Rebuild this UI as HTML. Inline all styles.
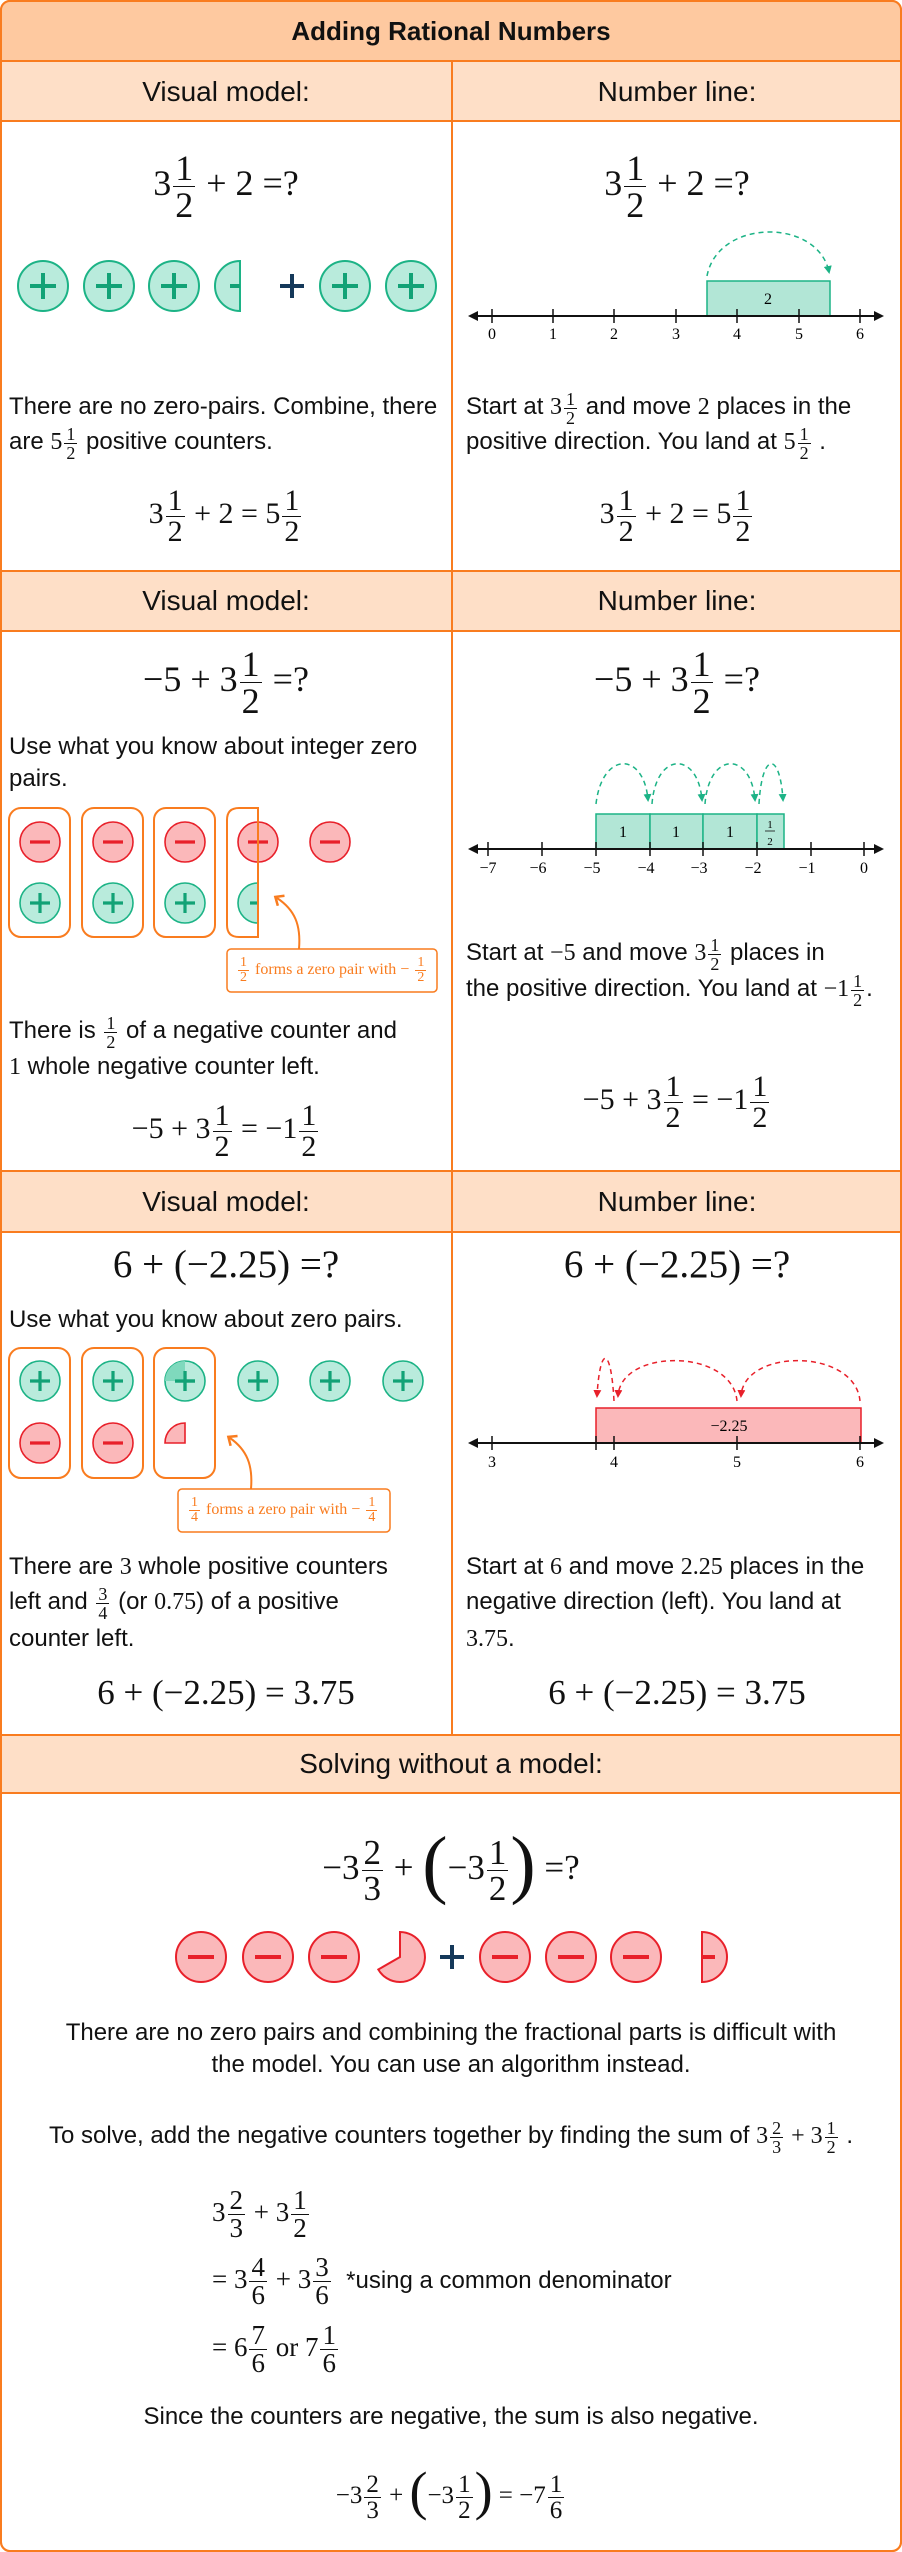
<!DOCTYPE html>
<html><head><meta charset="utf-8">
<style>
*{margin:0;padding:0;box-sizing:border-box}
body{width:902px;height:2552px;position:relative;background:#fff;font-family:"Liberation Sans",sans-serif;color:#111;overflow:hidden}
.a{position:absolute;white-space:nowrap}
.c{text-align:center}
.m{font-family:"Liberation Serif",serif}
.fr{display:inline-flex;flex-direction:column;vertical-align:middle;text-align:center;line-height:1.0;margin:0 2px}
.fr>span:first-child{border-bottom:1.4px solid currentColor;padding:0 2px}
.t{font-size:24px;line-height:36px}
.h{font-size:28px}
.sm .fr{font-size:18px}
</style></head><body>
<svg class="a" style="left:0;top:0" width="902" height="2552" xmlns="http://www.w3.org/2000/svg">
<defs>
<marker id="ag" markerWidth="8" markerHeight="8" refX="6" refY="4" orient="auto" markerUnits="userSpaceOnUse"><path d="M0,0 L8,4 L0,8 Z" fill="#1cb386"/></marker>
<marker id="ar" markerWidth="8" markerHeight="8" refX="6" refY="4" orient="auto" markerUnits="userSpaceOnUse"><path d="M0,0 L8,4 L0,8 Z" fill="#e8202a"/></marker>
<marker id="ab" markerWidth="10" markerHeight="10" refX="8" refY="5" orient="auto" markerUnits="userSpaceOnUse"><path d="M0,0 L10,5 L0,10 Z" fill="#111"/></marker>
<marker id="ao" markerWidth="14" markerHeight="14" refX="7" refY="7" orient="auto" markerUnits="userSpaceOnUse"><path d="M2,1 L9,7 L2,13" fill="none" stroke="#f97c1f" stroke-width="2.5"/></marker>
<g id="P"><circle r="25" fill="#b9ebdc" stroke="#1cb386" stroke-width="2"/><path d="M-13,0H13M0,-13V13" stroke="#12a276" stroke-width="4"/></g>
<g id="N"><circle r="25" fill="#fbb8ba" stroke="#e8202a" stroke-width="2"/><path d="M-13,0H13" stroke="#e8202a" stroke-width="4"/></g>
<g id="p"><circle r="20" fill="#b9ebdc" stroke="#1cb386" stroke-width="1.6"/><path d="M-10,0H10M0,-10V10" stroke="#12a276" stroke-width="3.2"/></g>
<g id="n"><circle r="20" fill="#fbb8ba" stroke="#e8202a" stroke-width="1.6"/><path d="M-10,0H10" stroke="#e8202a" stroke-width="3.2"/></g>
</defs>
<rect x="1" y="1" width="900" height="2550" rx="9" fill="#fff" stroke="#f97c1f" stroke-width="2"/>
<path d="M1,61 V10 Q1,1 10,1 H892 Q901,1 901,10 V61 Z" fill="#fec9a0"/>
<rect x="1" y="61" width="900" height="60" fill="#fedfc7"/>
<rect x="1" y="571" width="900" height="60" fill="#fedfc7"/>
<rect x="1" y="1171" width="900" height="61" fill="#fedfc7"/>
<rect x="1" y="1735" width="900" height="58" fill="#fedfc7"/>
<g stroke="#f97c1f" stroke-width="2">
<line x1="0" y1="61" x2="902" y2="61"/><line x1="0" y1="121" x2="902" y2="121"/>
<line x1="0" y1="571" x2="902" y2="571"/><line x1="0" y1="631" x2="902" y2="631"/>
<line x1="0" y1="1171" x2="902" y2="1171"/><line x1="0" y1="1232" x2="902" y2="1232"/>
<line x1="0" y1="1735" x2="902" y2="1735"/><line x1="0" y1="1793" x2="902" y2="1793"/>
<line x1="452" y1="61" x2="452" y2="1735"/>
</g>
<rect x="1" y="1" width="900" height="2550" rx="9" fill="none" stroke="#f97c1f" stroke-width="2"/>

<use href="#P" x="43" y="286"/><use href="#P" x="109" y="286"/><use href="#P" x="174" y="286"/>
<path d="M240,261 A25,25 0 0 0 240,311 Z" fill="#b9ebdc" stroke="#1cb386" stroke-width="2"/><path d="M230,286H240" stroke="#12a276" stroke-width="4"/>
<path d="M280,286H304M292,274V298" stroke="#15395a" stroke-width="4"/>
<use href="#P" x="345" y="286"/><use href="#P" x="411" y="286"/>
<rect x="707" y="281" width="123" height="35" fill="#b2e6d6" stroke="#1cb386" stroke-width="1.5"/>
<text x="768" y="304" font-family="Liberation Serif" font-size="16" text-anchor="middle">2</text>
<line x1="470" y1="316" x2="882" y2="316" stroke="#111" stroke-width="2" marker-end="url(#ab)"/>
<line x1="882" y1="316" x2="470" y2="316" stroke="#111" stroke-width="2" marker-end="url(#ab)"/>
<g stroke="#111" stroke-width="1.5"><path d="M492,309V323M553,309V323M614,309V323M676,309V323M737,309V323M799,309V323M860,309V323"/></g>
<g font-family="Liberation Serif" font-size="16" text-anchor="middle"><text x="492" y="339">0</text><text x="553" y="339">1</text><text x="614" y="339">2</text><text x="676" y="339">3</text><text x="737" y="339">4</text><text x="799" y="339">5</text><text x="860" y="339">6</text></g>
<path d="M707,276 C718,218 818,218 829,272" fill="none" stroke="#1cb386" stroke-width="1.5" stroke-dasharray="5,4" marker-end="url(#ag)"/>

<g fill="none" stroke="#f97c1f" stroke-width="2"><rect x="9" y="808" width="61" height="129" rx="12"/><rect x="82" y="808" width="61" height="129" rx="12"/><rect x="154" y="808" width="61" height="129" rx="12"/></g>
<use href="#n" x="40" y="842"/><use href="#n" x="113" y="842"/><use href="#n" x="185" y="842"/><use href="#n" x="258" y="842"/><use href="#n" x="330" y="842"/>
<use href="#p" x="40" y="903"/><use href="#p" x="113" y="903"/><use href="#p" x="185" y="903"/>
<path d="M258,883 A20,20 0 0 0 258,923 Z" fill="#b9ebdc" stroke="#1cb386" stroke-width="1.6"/><path d="M250,903H258" stroke="#12a276" stroke-width="3.2"/>
<path d="M258,808 H239 Q227,808 227,820 V925 Q227,937 239,937 H258 Z" fill="none" stroke="#f97c1f" stroke-width="2"/>
<path d="M299,949 C301,925 295,910 277,898" fill="none" stroke="#f97c1f" stroke-width="2" marker-end="url(#ao)"/>
<rect x="227" y="949" width="210" height="43" rx="4" fill="#fff" stroke="#f97c1f" stroke-width="1.5"/>
<g fill="#b2e6d6" stroke="#1cb386" stroke-width="1.5"><rect x="596" y="814" width="54" height="35"/><rect x="650" y="814" width="53" height="35"/><rect x="703" y="814" width="54" height="35"/><rect x="757" y="814" width="27" height="35"/></g>
<g font-family="Liberation Serif" font-size="16" text-anchor="middle"><text x="623" y="837">1</text><text x="676" y="837">1</text><text x="730" y="837">1</text><text x="770" y="828" font-size="11">1</text><text x="770" y="845" font-size="11">2</text></g>
<line x1="765" y1="831" x2="775" y2="831" stroke="#111" stroke-width="0.8"/>
<line x1="470" y1="849" x2="882" y2="849" stroke="#111" stroke-width="2" marker-end="url(#ab)"/>
<line x1="882" y1="849" x2="470" y2="849" stroke="#111" stroke-width="2" marker-end="url(#ab)"/>
<g stroke="#111" stroke-width="1.5"><path d="M488,842V856M542,842V856M596,842V856M650,842V856M703,842V856M757,842V856M811,842V856M864,842V856"/></g>
<g font-family="Liberation Serif" font-size="16" text-anchor="middle"><text x="488" y="873">−7</text><text x="538" y="873">−6</text><text x="592" y="873">−5</text><text x="646" y="873">−4</text><text x="699" y="873">−3</text><text x="753" y="873">−2</text><text x="807" y="873">−1</text><text x="864" y="873">0</text></g>
<g fill="none" stroke="#1cb386" stroke-width="1.5" stroke-dasharray="5,4">
<path d="M596,804 C602,751 644,751 648,800" marker-end="url(#ag)"/>
<path d="M652,804 C656,751 698,751 702,800" marker-end="url(#ag)"/>
<path d="M705,804 C709,751 751,751 755,800" marker-end="url(#ag)"/>
<path d="M759,804 C762,751 780,751 783,800" marker-end="url(#ag)"/>
</g>

<g fill="none" stroke="#f97c1f" stroke-width="2"><rect x="9" y="1348" width="61" height="130" rx="12"/><rect x="82" y="1348" width="61" height="130" rx="12"/><rect x="154" y="1348" width="61" height="130" rx="12"/></g>
<use href="#p" x="40" y="1381"/><use href="#p" x="113" y="1381"/><use href="#p" x="185" y="1381"/><use href="#p" x="258" y="1381"/><use href="#p" x="330" y="1381"/><use href="#p" x="403" y="1381"/>
<path d="M185,1381 L165,1381 A20,20 0 0 1 185,1361 Z" fill="#7fd9bd"/><path d="M175,1381H195M185,1371V1391" stroke="#12a276" stroke-width="3.2"/>
<use href="#n" x="40" y="1443"/><use href="#n" x="113" y="1443"/>
<path d="M185,1443 L165,1443 A20,20 0 0 1 185,1423 Z" fill="#fbb8ba" stroke="#e8202a" stroke-width="1.6"/>
<path d="M251,1489 C253,1465 247,1450 230,1438" fill="none" stroke="#f97c1f" stroke-width="2" marker-end="url(#ao)"/>
<rect x="178" y="1489" width="212" height="43" rx="4" fill="#fff" stroke="#f97c1f" stroke-width="1.5"/>
<rect x="596" y="1408" width="265" height="35" fill="#fbb8ba" stroke="#e8202a" stroke-width="1.5"/>
<text x="729" y="1431" font-family="Liberation Serif" font-size="16" text-anchor="middle">−2.25</text>
<line x1="470" y1="1443" x2="882" y2="1443" stroke="#111" stroke-width="2" marker-end="url(#ab)"/>
<line x1="882" y1="1443" x2="470" y2="1443" stroke="#111" stroke-width="2" marker-end="url(#ab)"/>
<g stroke="#111" stroke-width="1.5"><path d="M492,1436V1450M614,1436V1450M737,1436V1450M860,1436V1450M596,1436V1450"/></g>
<g font-family="Liberation Serif" font-size="16" text-anchor="middle"><text x="492" y="1467">3</text><text x="614" y="1467">4</text><text x="737" y="1467">5</text><text x="860" y="1467">6</text></g>
<g fill="none" stroke="#e8202a" stroke-width="1.5" stroke-dasharray="5,4">
<path d="M860,1401 C855,1348 744,1348 741,1396" marker-end="url(#ar)"/>
<path d="M737,1401 C732,1348 621,1348 618,1396" marker-end="url(#ar)"/>
<path d="M614,1401 C611,1345 600,1345 597,1396" marker-end="url(#ar)"/>
</g>

<use href="#N" x="201" y="1957"/><use href="#N" x="268" y="1957"/><use href="#N" x="334" y="1957"/>
<path d="M400,1957 L400,1932 A25,25 0 1 1 378.3,1969.5 Z" fill="#fbb8ba" stroke="#e8202a" stroke-width="2"/>
<path d="M440,1957H464M452,1945V1969" stroke="#15395a" stroke-width="4"/>
<use href="#N" x="505" y="1957"/><use href="#N" x="571" y="1957"/><use href="#N" x="636" y="1957"/>
<path d="M702,1932 A25,25 0 0 1 702,1982 Z" fill="#fbb8ba" stroke="#e8202a" stroke-width="2"/><path d="M702,1957H715" stroke="#e8202a" stroke-width="4"/>
</svg>

<div class="a c" style="left:0;width:902px;top:15px;font-size:26px;font-weight:bold;line-height:32px">Adding Rational Numbers</div>
<div class="a c h" style="left:0;width:452px;top:75px;line-height:34px">Visual model:</div>
<div class="a c h" style="left:452px;width:450px;top:75px;line-height:34px">Number line:</div>
<div class="a c h" style="left:0;width:452px;top:584px;line-height:34px">Visual model:</div>
<div class="a c h" style="left:452px;width:450px;top:584px;line-height:34px">Number line:</div>
<div class="a c h" style="left:0;width:452px;top:1185px;line-height:34px">Visual model:</div>
<div class="a c h" style="left:452px;width:450px;top:1185px;line-height:34px">Number line:</div>
<div class="a c h" style="left:0;width:902px;top:1747px;line-height:34px">Solving without a model:</div>

<div class="a c m" style="left:0;width:452px;top:143px;font-size:36px;line-height:80px">3<span class="fr"><span>1</span><span>2</span></span> + 2 =?</div>
<div class="a c m" style="left:452px;width:450px;top:143px;font-size:36px;line-height:80px">3<span class="fr"><span>1</span><span>2</span></span> + 2 =?</div>
<div class="a t sm" style="left:9px;top:389px">There are no zero-pairs. Combine, there</div>
<div class="a t sm" style="left:9px;top:424px">are <span class="m">5<span class="fr"><span>1</span><span>2</span></span></span> positive counters.</div>
<div class="a c m" style="left:0;width:452px;top:479px;font-size:30px;line-height:70px">3<span class="fr"><span>1</span><span>2</span></span> + 2 = 5<span class="fr"><span>1</span><span>2</span></span></div>
<div class="a t sm" style="left:466px;top:389px">Start at <span class="m">3<span class="fr"><span>1</span><span>2</span></span></span> and move <span class="m">2</span> places in the</div>
<div class="a t sm" style="left:466px;top:424px">positive direction. You land at <span class="m">5<span class="fr"><span>1</span><span>2</span></span></span> .</div>
<div class="a c m" style="left:452px;width:450px;top:479px;font-size:30px;line-height:70px">3<span class="fr"><span>1</span><span>2</span></span> + 2 = 5<span class="fr"><span>1</span><span>2</span></span></div>

<div class="a c m" style="left:0;width:452px;top:639px;font-size:36px;line-height:80px">−5 + 3<span class="fr"><span>1</span><span>2</span></span> =?</div>
<div class="a c m" style="left:452px;width:450px;top:639px;font-size:36px;line-height:80px">−5 + 3<span class="fr"><span>1</span><span>2</span></span> =?</div>
<div class="a t" style="left:9px;top:729px">Use what you know about integer zero</div>
<div class="a t" style="left:9px;top:761px">pairs.</div>
<div class="a m" style="left:236px;top:952px;font-size:16px;line-height:36px;color:#f97c1f"><span class="fr" style="font-size:14px"><span>1</span><span>2</span></span> forms a zero pair with − <span class="fr" style="font-size:14px"><span>1</span><span>2</span></span></div>
<div class="a t sm" style="left:9px;top:1013px">There is <span class="m"><span class="fr"><span>1</span><span>2</span></span></span> of a negative counter and</div>
<div class="a t" style="left:9px;top:1049px"><span class="m">1</span> whole negative counter left.</div>
<div class="a c m" style="left:0;width:452px;top:1094px;font-size:30px;line-height:70px">−5 + 3<span class="fr"><span>1</span><span>2</span></span> = −1<span class="fr"><span>1</span><span>2</span></span></div>
<div class="a t sm" style="left:466px;top:935px">Start at <span class="m">−5</span> and move <span class="m">3<span class="fr"><span>1</span><span>2</span></span></span> places in</div>
<div class="a t sm" style="left:466px;top:971px">the positive direction. You land at <span class="m">−1<span class="fr"><span>1</span><span>2</span></span></span>.</div>
<div class="a c m" style="left:452px;width:450px;top:1065px;font-size:30px;line-height:70px">−5 + 3<span class="fr"><span>1</span><span>2</span></span> = −1<span class="fr"><span>1</span><span>2</span></span></div>

<div class="a c m" style="left:0;width:452px;top:1241px;font-size:39px;line-height:48px">6 + (−2.25) =?</div>
<div class="a c m" style="left:452px;width:450px;top:1241px;font-size:39px;line-height:48px">6 + (−2.25) =?</div>
<div class="a t" style="left:9px;top:1302px">Use what you know about zero pairs.</div>
<div class="a m" style="left:187px;top:1492px;font-size:16px;line-height:36px;color:#f97c1f"><span class="fr" style="font-size:14px"><span>1</span><span>4</span></span> forms a zero pair with − <span class="fr" style="font-size:14px"><span>1</span><span>4</span></span></div>
<div class="a t" style="left:9px;top:1549px">There are <span class="m">3</span> whole positive counters</div>
<div class="a t sm" style="left:9px;top:1584px">left and <span class="m"><span class="fr"><span>3</span><span>4</span></span></span> (or <span class="m">0.75</span>) of a positive</div>
<div class="a t" style="left:9px;top:1621px">counter left.</div>
<div class="a c m" style="left:0;width:452px;top:1671px;font-size:35px;line-height:44px">6 + (−2.25) = 3.75</div>
<div class="a t" style="left:466px;top:1549px">Start at <span class="m">6</span> and move <span class="m">2.25</span> places in the</div>
<div class="a t" style="left:466px;top:1584px">negative direction (left). You land at</div>
<div class="a t" style="left:466px;top:1621px"><span class="m">3.75</span>.</div>
<div class="a c m" style="left:452px;width:450px;top:1671px;font-size:35px;line-height:44px">6 + (−2.25) = 3.75</div>

<div class="a c m" style="left:0;width:902px;top:1819px;font-size:35px;line-height:90px">−3<span class="fr"><span>2</span><span>3</span></span> + <span style="font-size:76px;vertical-align:-10px">(</span>−3<span class="fr"><span>1</span><span>2</span></span><span style="font-size:76px;vertical-align:-10px">)</span> =?</div>
<div class="a c t" style="left:0;width:902px;top:2017px;line-height:32px">There are no zero pairs and combining the fractional parts is difficult with</div>
<div class="a c t" style="left:0;width:902px;top:2049px;line-height:32px">the model. You can use an algorithm instead.</div>
<div class="a c t sm" style="left:0;width:902px;top:2118px">To solve, add the negative counters together by finding the sum of <span class="m">3<span class="fr"><span>2</span><span>3</span></span> + 3<span class="fr"><span>1</span><span>2</span></span></span> .</div>
<div class="a m" style="left:212px;top:2184px;font-size:27px;line-height:56px">3<span class="fr"><span>2</span><span>3</span></span> + 3<span class="fr"><span>1</span><span>2</span></span></div>
<div class="a m" style="left:212px;top:2251px;font-size:27px;line-height:56px">= 3<span class="fr"><span>4</span><span>6</span></span> + 3<span class="fr"><span>3</span><span>6</span></span> <span style="font-family:'Liberation Sans',sans-serif;font-size:24px">&nbsp;*using a common denominator</span></div>
<div class="a m" style="left:212px;top:2319px;font-size:27px;line-height:56px">= 6<span class="fr"><span>7</span><span>6</span></span> or 7<span class="fr"><span>1</span><span>6</span></span></div>
<div class="a c t" style="left:0;width:902px;top:2399px">Since the counters are negative, the sum is also negative.</div>
<div class="a c m" style="left:0;width:902px;top:2463px;font-size:25px;line-height:56px">−3<span class="fr"><span>2</span><span>3</span></span> + <span style="font-size:54px;vertical-align:-6px">(</span>−3<span class="fr"><span>1</span><span>2</span></span><span style="font-size:54px;vertical-align:-6px">)</span> = −7<span class="fr"><span>1</span><span>6</span></span></div>
</body></html>
